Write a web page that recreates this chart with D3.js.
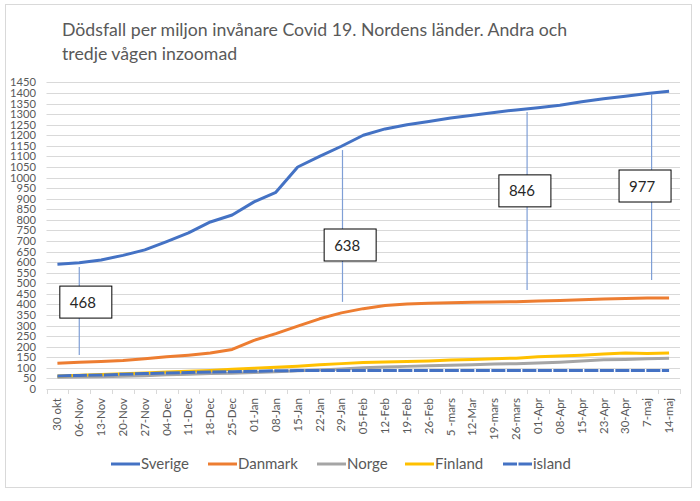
<!DOCTYPE html>
<html lang="sv">
<head>
<meta charset="UTF-8">
<title>Dödsfall per miljon invånare</title>
<script src="https://d3js.org/d3.v7.min.js"></script>
<style>
  body { margin: 0; background: #fff; }
  text { font-family: Lato, "Open Sans", sans-serif; }
</style>
</head>
<body>
<svg width="700" height="501"></svg>
<script>
  // data
  const weeks = ["30 okt", "06-Nov", "13-Nov", "20-Nov", "27-Nov", "04-Dec", "11-Dec", "18-Dec",
    "25-Dec", "01-Jan", "08-Jan", "15-Jan", "22-Jan", "29-Jan", "05-Feb", "12-Feb", "19-Feb",
    "26-Feb", "5 -mars", "12-Mar", "19-mars", "26-mars", "01-Apr", "08-Apr", "15-Apr", "23-Apr",
    "30-Apr", "7-maj", "14-maj"];
  const sverige = [590, 597, 610, 632, 658, 697, 738, 790, 823, 885, 930, 1050, 1100, 1148, 1200,
    1230, 1250, 1265, 1282, 1295, 1308, 1320, 1330, 1342, 1358, 1373, 1385, 1398, 1408];
  const danmark = [122, 127, 130, 135, 143, 152, 160, 170, 187, 230, 262, 297, 332, 360, 380,
    395, 402, 405, 408, 410, 412, 413, 416, 419, 422, 426, 428, 430, 430];
  const norge = [55, 57, 58, 60, 63, 67, 70, 73, 75, 78, 82, 86, 90, 95, 100, 104, 107, 110, 112,
    115, 118, 120, 123, 127, 132, 138, 140, 143, 146];
  const finland = [62, 65, 68, 72, 76, 80, 84, 88, 93, 98, 103, 108, 115, 120, 125, 128, 130, 133,
    137, 140, 143, 146, 152, 156, 160, 165, 170, 168, 170];
  const island = [62, 64, 66, 70, 73, 76, 78, 80, 82, 84, 86, 87, 87, 87, 87, 87, 87, 87, 87, 87,
    87, 87, 87, 87, 87, 87, 87, 87, 87];
  const seriesNames = ["Sverige", "Danmark", "Norge", "Finland", "island"];
  const yTicks = d3.range(0, 1451, 50);

  // callouts: label, week index of the line, line top / bottom, box centre (index, value)
  const annLabels = ["468", "638", "846", "977"];
  const annAt = [1, 13.05, 21.5, 27.2];
  const annTop = [577, 1130, 1310, 1395];
  const annBottom = [161, 412, 468, 516];
  const annBoxAt = [1.3, 13.4, 21.4, 26.9];
  const annBoxVal = [411, 681, 937, 960];

  const colors = ["#4472C4", "#ED7D31", "#A5A5A5", "#FFC000", "#4472C4"];
  const allSeries = [sverige, danmark, norge, finland, island];

  const svg = d3.select("svg");

  svg.append("rect")
    .attr("x", 5.5).attr("y", 4.5).attr("width", 686).attr("height", 483)
    .attr("fill", "#fff").attr("stroke", "#d9d9d9");

  const title = svg.append("text")
    .attr("x", 62).attr("y", 36)
    .attr("fill", "#595959").attr("font-size", 17.7);
  title.append("tspan").attr("x", 62).text("Dödsfall per miljon invånare Covid 19. Nordens länder. Andra och");
  title.append("tspan").attr("x", 62).attr("dy", 24).text("tredje vågen inzoomad");

  const x = d3.scaleBand().domain(weeks).range([46.5, 680]);
  const y = d3.scaleLinear().domain([0, 1450]).range([389, 82.4]);
  const xc = i => x.range()[0] + x.step() * (i + 0.5);

  // gridlines
  svg.append("g").selectAll("line")
    .data(yTicks.filter(d => d > 0))
    .join("line")
    .attr("x1", 46.5).attr("x2", 680)
    .attr("y1", d => Math.round(y(d)) + 0.5).attr("y2", d => Math.round(y(d)) + 0.5)
    .attr("stroke", "#d9d9d9");

  // y labels
  svg.append("g").selectAll("text")
    .data(yTicks)
    .join("text")
    .attr("x", 36).attr("y", d => y(d) + 4)
    .attr("text-anchor", "end")
    .attr("font-size", 11.2)
    .attr("fill", "#595959")
    .text(d => d);

  // x axis line and ticks
  const gx = svg.append("g");
  gx.append("line")
    .attr("x1", 46.5).attr("x2", 680).attr("y1", 389.5).attr("y2", 389.5)
    .attr("stroke", "#d9d9d9");
  gx.selectAll(".tick")
    .data(d3.range(weeks.length + 1))
    .join("line")
    .attr("class", "tick")
    .attr("x1", i => Math.round(x.range()[0] + x.step() * i) + 0.5)
    .attr("x2", i => Math.round(x.range()[0] + x.step() * i) + 0.5)
    .attr("y1", 389).attr("y2", 394)
    .attr("stroke", "#d9d9d9");
  gx.selectAll(".lab")
    .data(weeks)
    .join("text")
    .attr("class", "lab")
    .attr("transform", (d, i) => `translate(${xc(i) + 4},398) rotate(-90)`)
    .attr("text-anchor", "end")
    .attr("font-size", 11.5)
    .attr("fill", "#595959")
    .text(d => d);

  // series lines
  const line = d3.line()
    .x((d, i) => xc(i))
    .y(d => y(d));

  allSeries.forEach((s, k) => {
    svg.append("path")
      .datum(s)
      .attr("fill", "none")
      .attr("stroke", colors[k])
      .attr("stroke-width", 3)
      .attr("stroke-linejoin", "round")
      .attr("stroke-dasharray", k === 4 ? "14,1.5" : null)
      .attr("d", line);
  });

  // callouts
  const xf = v => x.range()[0] + x.step() * (v + 0.5);
  annLabels.forEach((lab, i) => {
    svg.append("line")
      .attr("x1", xf(annAt[i])).attr("x2", xf(annAt[i]))
      .attr("y1", y(annTop[i])).attr("y2", y(annBottom[i]))
      .attr("stroke", "#7f9fd6").attr("stroke-width", 1.2);
    const bw = 52, bh = 32;
    svg.append("rect")
      .attr("x", xf(annBoxAt[i]) - bw / 2).attr("y", y(annBoxVal[i]) - bh / 2)
      .attr("width", bw).attr("height", bh)
      .attr("fill", "#fff").attr("stroke", "#000").attr("stroke-width", 1);
    svg.append("text")
      .attr("x", xf(annBoxAt[i]) - bw / 2 + 10).attr("y", y(annBoxVal[i]) + 5.5)
      .attr("font-size", 15)
      .attr("fill", "#262626")
      .text(lab);
  });

  // legend
  const legX = [111, 208, 317, 405, 503];
  const leg = svg.append("g");
  seriesNames.forEach((n, k) => {
    leg.append("line")
      .attr("x1", legX[k]).attr("x2", legX[k] + 29)
      .attr("y1", 464).attr("y2", 464)
      .attr("stroke", colors[k]).attr("stroke-width", 3)
      .attr("stroke-dasharray", k === 4 ? "14,1.5" : null);
    leg.append("text")
      .attr("x", legX[k] + 30).attr("y", 469)
      .attr("font-size", 15)
      .attr("fill", "#595959")
      .text(n);
  });
</script>
</body>
</html>
